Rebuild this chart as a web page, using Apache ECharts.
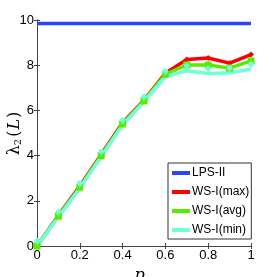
<!DOCTYPE html>
<html><head><meta charset="utf-8">
<script src="https://cdn.jsdelivr.net/npm/echarts@6/dist/echarts.min.js"></script>
<style>html,body{margin:0;padding:0;background:#fff}#c{width:277px;height:277px}</style>
</head><body><div id="c"></div>
<script>
const xs = [0, 0.1, 0.2, 0.3, 0.4, 0.5, 0.6, 0.7, 0.8, 0.9, 1];
const lps = [9.85, 9.85, 9.85, 9.85, 9.85, 9.85, 9.85, 9.85, 9.85, 9.85, 9.85];
const wsMax = [0, 1.35, 2.65, 4.05, 5.45, 6.45, 7.65, 8.25, 8.32, 8.09, 8.47];
const wsAvg = [0, 1.32, 2.6, 4.0, 5.4, 6.42, 7.6, 8.01, 8.01, 7.87, 8.19];
const wsMin = [0, 1.28, 2.55, 3.95, 5.35, 6.38, 7.5, 7.75, 7.63, 7.67, 7.82];
const xTicks = ['0', '0.2', '0.4', '0.6', '0.8', '1'];
const yTicks = ['0', '2', '4', '6', '8', '10'];

const pair = a => xs.map((x, i) => [x, a[i]]);
const chart = echarts.init(document.getElementById('c'), null, {renderer: 'canvas'});
const font = '"Liberation Sans", Arial, sans-serif';
const serif = '"DejaVu Serif", serif';
const axisCol = '#444';
function mk(name, data, color, symbol, size) {
  return {name, type: 'line', data: pair(data), xAxisIndex: 0, yAxisIndex: 0,
    lineStyle: {color, width: 3.5}, itemStyle: {color},
    symbol: symbol || 'none', symbolSize: size || 6, showSymbol: !!symbol,
    animation: false, z: 3};
}
chart.setOption({
  animation: false,
  grid: {left: 37, right: 26, top: 20, bottom: 31, show: false, containLabel: false, outerBoundsMode: 'none'},
  xAxis: [{
    type: 'value', min: 0, max: 1, interval: 0.2, position: 'bottom',
    name: '{i|p}{s|w}', nameLocation: 'middle', nameGap: 22, nameMoveOverlap: false,
    nameTextStyle: {color: '#000', rich: {
      i: {fontFamily: serif, fontStyle: 'italic', fontSize: 16, color: '#000'},
      s: {fontFamily: serif, fontStyle: 'italic', fontSize: 10, color: '#000', verticalAlign: 'bottom', padding: [6, 0, 0, 0]}
    }},
    axisLine: {lineStyle: {color: axisCol, width: 1}},
    axisTick: {inside: true, length: 3, lineStyle: {color: axisCol}},
    axisLabel: {color: '#000', fontFamily: font, fontSize: 13, margin: 3,
      formatter: v => xTicks[Math.round(v / 0.2)]},
    splitLine: {show: false}
  }, {
    type: 'value', min: 0, max: 1, interval: 0.2, position: 'top',
    axisLine: {lineStyle: {color: axisCol, width: 1}},
    axisTick: {inside: true, length: 3, lineStyle: {color: axisCol}},
    axisLabel: {show: false}, splitLine: {show: false}
  }],
  yAxis: [{
    type: 'value', min: 0, max: 10, interval: 2, position: 'left',
    name: '{l|λ}{s|2}{p|(}{i|L}{p|)}', nameLocation: 'middle', nameGap: 14, nameRotate: 90,
    nameMoveOverlap: false,
    nameTextStyle: {color: '#000', fontSize: 15, rich: {
      l: {fontFamily: serif, fontSize: 16, color: '#000'},
      s: {fontFamily: serif, fontSize: 10, color: '#000', verticalAlign: 'bottom', padding: [6, 1, 0, 0]},
      p: {fontFamily: serif, fontSize: 16, color: '#000', padding: [0, 1, 0, 1]},
      i: {fontFamily: serif, fontStyle: 'italic', fontSize: 16, color: '#000'}
    }},
    axisLine: {show: true, lineStyle: {color: axisCol, width: 1}},
    axisTick: {show: true, inside: true, length: 3, lineStyle: {color: axisCol}},
    axisLabel: {color: '#000', fontFamily: font, fontSize: 13, margin: 3,
      formatter: v => yTicks[Math.round(v / 2)]},
    splitLine: {show: false}
  }, {
    type: 'value', min: 0, max: 10, interval: 2, position: 'right',
    axisLine: {show: true, lineStyle: {color: axisCol, width: 1}},
    axisTick: {show: true, inside: true, length: 3, lineStyle: {color: axisCol}},
    axisLabel: {show: false}, splitLine: {show: false}
  }],
  legend: {
    orient: 'vertical', left: 168, top: 163,
    backgroundColor: '#fff', borderColor: '#333', borderWidth: 1, borderRadius: 0,
    padding: [4, 2, 3, 4], itemGap: 7, itemWidth: 18, itemHeight: 4, icon: 'rect',
    textStyle: {fontFamily: font, fontSize: 12, color: '#000', padding: [0, 0, 0, -3]},
    data: ['LPS-II', 'WS-I(max)', 'WS-I(avg)', 'WS-I(min)']
  },
  series: [
    mk('LPS-II', lps, '#2a45ff'),
    mk('WS-I(max)', wsMax, '#ff0000', 'diamond', 6),
    mk('WS-I(avg)', wsAvg, '#55ee00', 'rect', 7),
    mk('WS-I(min)', wsMin, '#70ffd8', 'pin', 9)
  ]
});
</script></body></html>
